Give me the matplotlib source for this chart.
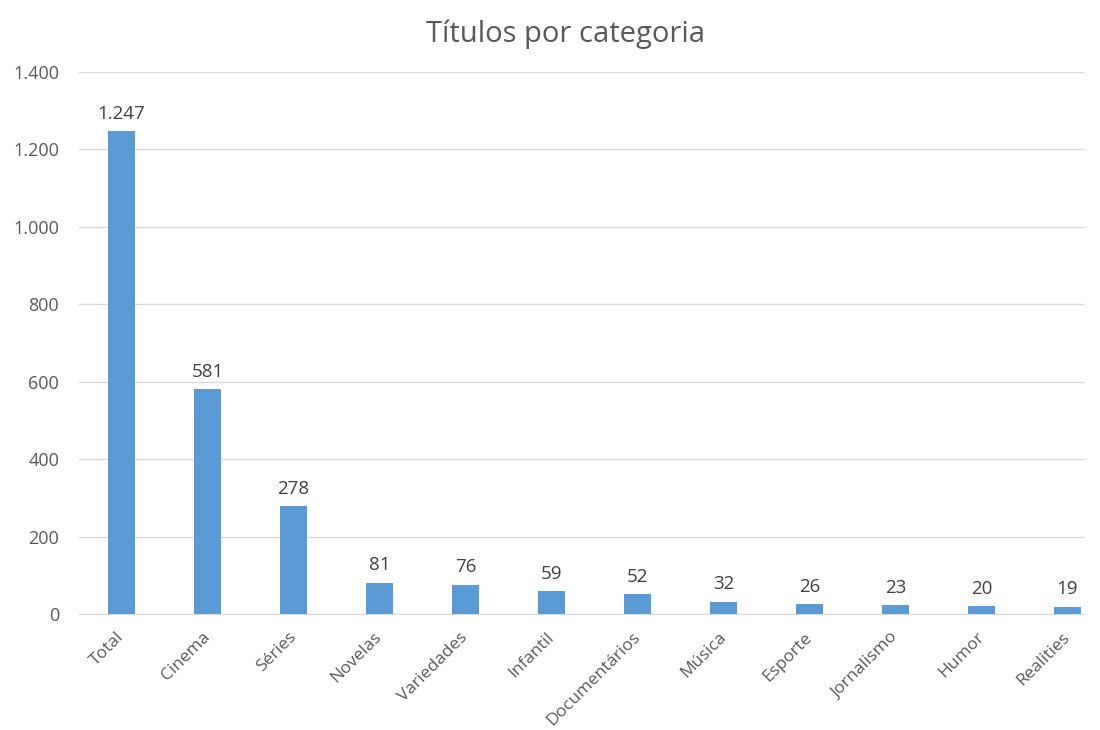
import matplotlib
matplotlib.use("Agg")
import matplotlib.pyplot as plt
from matplotlib.ticker import FuncFormatter

categories = ["Total", "Cinema", "Séries", "Novelas", "Variedades", "Infantil",
              "Documentários", "Música", "Esporte", "Jornalismo", "Humor", "Realities"]
values = [1247, 581, 278, 81, 76, 59, 52, 32, 26, 23, 20, 19]
title = "Títulos por categoria"

TXT = "#595959"
plt.rcParams['font.family'] = ['Open Sans', 'DejaVu Sans']

fig = plt.figure(figsize=(11, 7.3), dpi=100)
# axes spans pixel 78.5 .. 1085 horizontally, 72 .. 614 vertically
ax = fig.add_axes([78.5 / 1100, 116 / 730, (1085 - 78.5) / 1100, 542 / 730])

x = list(range(len(categories)))
ax.bar(x, values, width=0.315, color="#5B9BD5", zorder=3)

def fmt(v):
    return f"{int(v):,}".replace(",", ".")

for xi, v in zip(x, values):
    ax.annotate(fmt(v), (xi, v), xytext=(0, 6), textcoords="offset points",
                ha="center", va="bottom", fontsize=13.5, color="#404040")

ax.set_xlim(-0.5, -0.5 + (1085 - 78.5) / 86.0)
ax.set_ylim(0, 1400)
ax.set_yticks(range(0, 1401, 200))
ax.yaxis.set_major_formatter(FuncFormatter(lambda v, p: fmt(v)))
ax.grid(axis="y", color="#D9D9D9", linewidth=1, zorder=0)
for s in ["top", "right", "left"]:
    ax.spines[s].set_visible(False)
ax.spines["bottom"].set_color("#D9D9D9")
ax.tick_params(axis="y", length=0, pad=14, labelsize=13, labelcolor=TXT)
ax.tick_params(axis="x", length=0, pad=15, labelsize=12.5, labelcolor=TXT)
ax.set_xticks(x)
ax.set_xticklabels(categories, rotation=45, ha="right", va="center",
                   rotation_mode="anchor")

fig.text(565 / 1100, (730 - 42) / 730, title, ha="center", va="baseline",
         fontsize=21, color=TXT)

fig.savefig("out.png", dpi=100, facecolor="white")
